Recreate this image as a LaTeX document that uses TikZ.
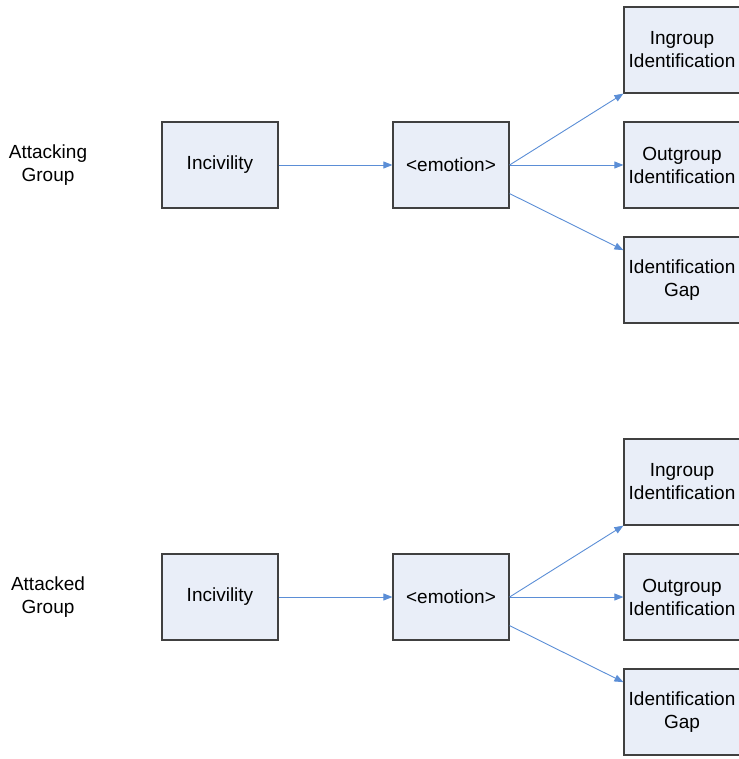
\documentclass[tikz,border=0pt]{standalone}
\usepackage{fontspec}
\setmainfont{Liberation Sans}
\usepackage{xcolor}
\usepackage{tikz}
\usetikzlibrary{arrows.meta}

\definecolor{boxfill}{HTML}{E9EEF8}
\definecolor{boxline}{HTML}{404040}
\definecolor{linkblue}{HTML}{5B8ED6}

\begin{document}
\begin{tikzpicture}[x=1pt, y=-1pt,
                    font=\fontsize{19}{23}\selectfont,
                    box/.style={draw=boxline, fill=boxfill, line width=1.2pt,
                                minimum width=116pt, minimum height=86pt,
                                inner sep=0pt, align=center},
                    group/.style={align=center, inner sep=0pt},
                    link/.style={draw=linkblue, line width=0.9pt,
                                 -{Triangle[length=9pt, width=7pt]}}]
  \useasboundingbox (0,0) rectangle (738,759);

  % attacking group
  \node[group] (grp1) at (48,165) {Attacking\\Group};
  \node[box] (inc1) at (220,165) {Incivility};
  \node[box] (emo1) at (451,165) {<emotion>};
  \node[box] (in1)  at (682,50)  {Ingroup\\Identification};
  \node[box] (out1) at (682,165) {Outgroup\\Identification};
  \node[box] (gap1) at (682,280) {Identification\\Gap};

  \draw[link] (inc1.east) -- (emo1.west);
  \draw[link] (emo1.east) -- (in1.south west);
  \draw[link] (emo1.east) -- (out1.west);
  \draw[link] (emo1.-26) -- (gap1.153);

  % attacked group
  \node[group] (grp2) at (48,597) {Attacked\\Group};
  \node[box] (inc2) at (220,597) {Incivility};
  \node[box] (emo2) at (451,597) {<emotion>};
  \node[box] (in2)  at (682,482) {Ingroup\\Identification};
  \node[box] (out2) at (682,597) {Outgroup\\Identification};
  \node[box] (gap2) at (682,712) {Identification\\Gap};

  \draw[link] (inc2.east) -- (emo2.west);
  \draw[link] (emo2.east) -- (in2.south west);
  \draw[link] (emo2.east) -- (out2.west);
  \draw[link] (emo2.-26) -- (gap2.153);
\end{tikzpicture}
\end{document}
